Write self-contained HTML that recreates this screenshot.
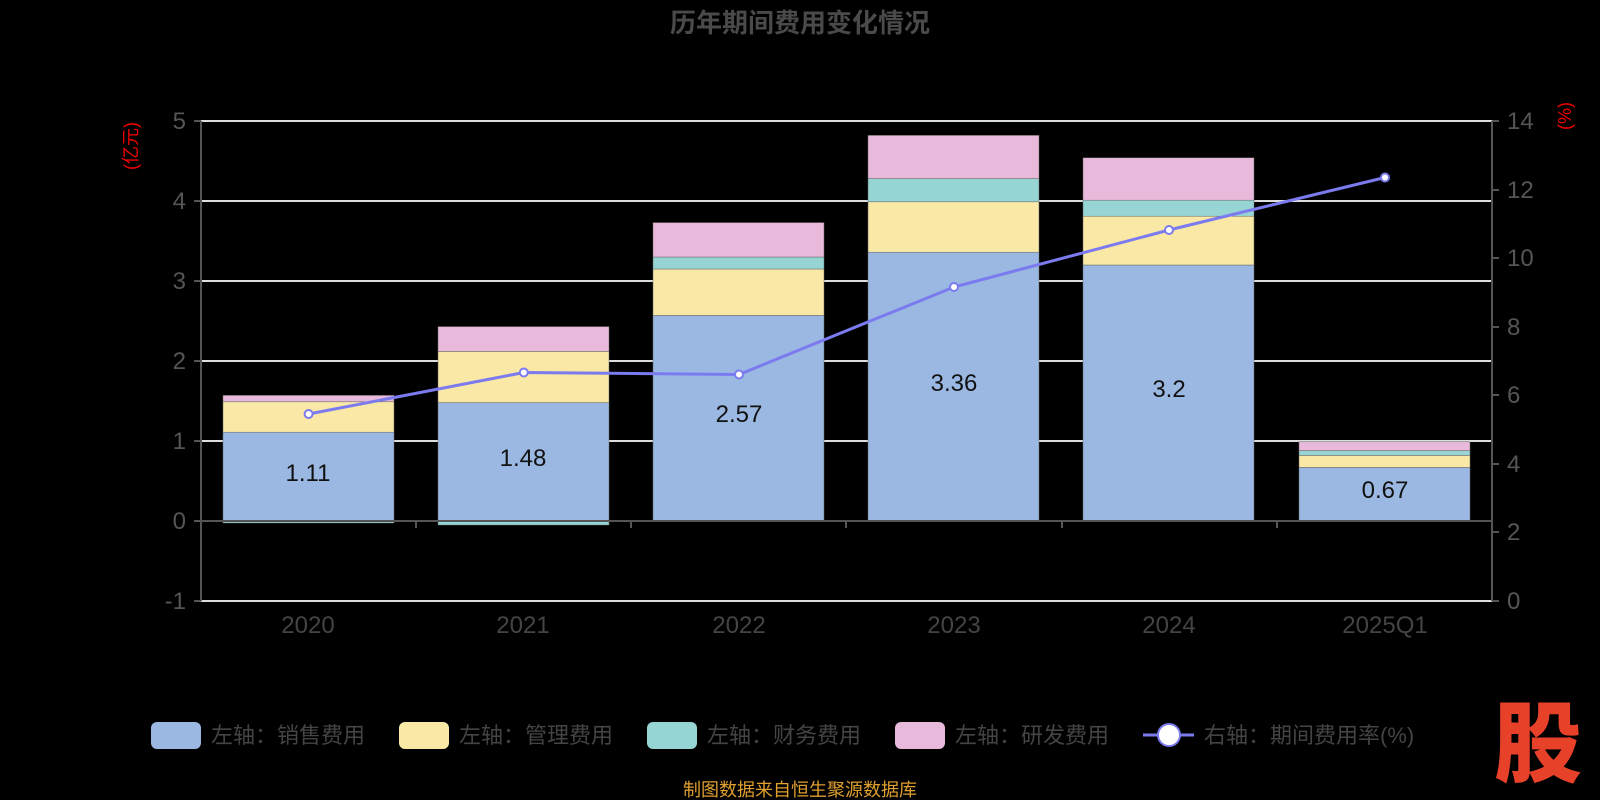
<!DOCTYPE html>
<html><head><meta charset="utf-8"><style>
html,body{margin:0;padding:0;background:#000;}
svg{display:block;font-family:"Liberation Sans","Noto Sans CJK SC",sans-serif;}
</style></head><body>
<svg width="1600" height="800" viewBox="0 0 1600 800">
<rect width="1600" height="800" fill="#000"/>
<text x="800" y="32" text-anchor="middle" font-size="26" font-weight="bold" fill="#4a4a4a">历年期间费用变化情况</text>
<g stroke="#ddd" stroke-width="2">
<line x1="201" x2="1492" y1="121" y2="121"/>
<line x1="201" x2="1492" y1="201" y2="201"/>
<line x1="201" x2="1492" y1="281" y2="281"/>
<line x1="201" x2="1492" y1="361" y2="361"/>
<line x1="201" x2="1492" y1="441" y2="441"/>
<line x1="201" x2="1492" y1="601" y2="601"/>
</g>
<g font-size="24" fill="#555" text-anchor="end">
<text x="186" y="129">5</text><text x="186" y="209">4</text><text x="186" y="289">3</text>
<text x="186" y="369">2</text><text x="186" y="449">1</text><text x="186" y="529">0</text><text x="186" y="609">-1</text>
</g>
<g font-size="24" fill="#555">
<text x="1507" y="129">14</text><text x="1507" y="198">12</text><text x="1507" y="266">10</text>
<text x="1507" y="335">8</text><text x="1507" y="403">6</text><text x="1507" y="472">4</text>
<text x="1507" y="540">2</text><text x="1507" y="609">0</text>
</g>
<text transform="translate(132,146) rotate(-90)" text-anchor="middle" dominant-baseline="middle" font-size="18" fill="#e00">(亿元)</text>
<text transform="translate(1566,116) rotate(-90)" text-anchor="middle" dominant-baseline="middle" font-size="18" fill="#e00">(%)</text>
<g stroke="#666" stroke-width="0.5">
<rect x="223" y="432.2" width="171" height="88.8" fill="#9ab8e2"/>
<rect x="223" y="401.8" width="171" height="30.4" fill="#f9e8a6"/>
<rect x="223" y="521" width="171" height="2" fill="#97d5d5"/>
<rect x="223" y="395.4" width="171" height="6.4" fill="#e8b9da"/>
<rect x="438" y="402.6" width="171" height="118.4" fill="#9ab8e2"/>
<rect x="438" y="351.4" width="171" height="51.2" fill="#f9e8a6"/>
<rect x="438" y="521" width="171" height="4" fill="#97d5d5"/>
<rect x="438" y="326.6" width="171" height="24.8" fill="#e8b9da"/>
<rect x="653" y="315.4" width="171" height="205.6" fill="#9ab8e2"/>
<rect x="653" y="269" width="171" height="46.4" fill="#f9e8a6"/>
<rect x="653" y="257" width="171" height="12" fill="#97d5d5"/>
<rect x="653" y="222.6" width="171" height="34.4" fill="#e8b9da"/>
<rect x="868" y="252.2" width="171" height="268.8" fill="#9ab8e2"/>
<rect x="868" y="201.8" width="171" height="50.4" fill="#f9e8a6"/>
<rect x="868" y="178.6" width="171" height="23.2" fill="#97d5d5"/>
<rect x="868" y="135.4" width="171" height="43.2" fill="#e8b9da"/>
<rect x="1083" y="265" width="171" height="256" fill="#9ab8e2"/>
<rect x="1083" y="216.2" width="171" height="48.8" fill="#f9e8a6"/>
<rect x="1083" y="200.2" width="171" height="16" fill="#97d5d5"/>
<rect x="1083" y="157.8" width="171" height="42.4" fill="#e8b9da"/>
<rect x="1299" y="467.4" width="171" height="53.6" fill="#9ab8e2"/>
<rect x="1299" y="455.4" width="171" height="12" fill="#f9e8a6"/>
<rect x="1299" y="450.6" width="171" height="4.8" fill="#97d5d5"/>
<rect x="1299" y="441.8" width="171" height="8.8" fill="#e8b9da"/>
</g>
<g stroke="#555" stroke-width="2">
<line x1="201" x2="201" y1="121" y2="601"/>
<line x1="1492" x2="1492" y1="121" y2="601"/>
<line x1="201" x2="1492" y1="521" y2="521"/>
</g>
<g stroke="#555" stroke-width="2">
<line x1="194" x2="201" y1="121" y2="121"/><line x1="194" x2="201" y1="201" y2="201"/><line x1="194" x2="201" y1="281" y2="281"/><line x1="194" x2="201" y1="361" y2="361"/><line x1="194" x2="201" y1="441" y2="441"/><line x1="194" x2="201" y1="521" y2="521"/><line x1="194" x2="201" y1="601" y2="601"/>
<line x1="1492" x2="1499" y1="121" y2="121"/><line x1="1492" x2="1499" y1="190" y2="190"/><line x1="1492" x2="1499" y1="258" y2="258"/><line x1="1492" x2="1499" y1="327" y2="327"/><line x1="1492" x2="1499" y1="395" y2="395"/><line x1="1492" x2="1499" y1="464" y2="464"/><line x1="1492" x2="1499" y1="532" y2="532"/><line x1="1492" x2="1499" y1="601" y2="601"/>
<line x1="416" x2="416" y1="521" y2="528"/><line x1="631" x2="631" y1="521" y2="528"/><line x1="846" x2="846" y1="521" y2="528"/><line x1="1062" x2="1062" y1="521" y2="528"/><line x1="1277" x2="1277" y1="521" y2="528"/>
</g>
<g font-size="24" fill="#111" text-anchor="middle">
<text x="308" y="481">1.11</text><text x="523" y="466">1.48</text><text x="739" y="422">2.57</text>
<text x="954" y="391">3.36</text><text x="1169" y="397">3.2</text><text x="1385" y="498">0.67</text>
</g>
<polyline points="308.6,414 523.8,372.5 739,374.5 954,287 1169,230 1385,177.5" fill="none" stroke="#7b7bef" stroke-width="3"/>
<g fill="#fff" stroke="#7b7bef" stroke-width="2">
<circle cx="308.6" cy="414" r="4"/><circle cx="523.8" cy="372.5" r="4"/><circle cx="739" cy="374.5" r="4"/>
<circle cx="954" cy="287" r="4"/><circle cx="1169" cy="230" r="4"/><circle cx="1385" cy="177.5" r="4"/>
</g>
<g font-size="24" fill="#444" text-anchor="middle">
<text x="308" y="633">2020</text><text x="523" y="633">2021</text><text x="739" y="633">2022</text>
<text x="954" y="633">2023</text><text x="1169" y="633">2024</text><text x="1385" y="633">2025Q1</text>
</g>
<g font-size="22" fill="#444">
<rect x="151" y="722" width="50" height="27" rx="6" fill="#9ab8e2"/><text x="211" y="743">左轴：销售费用</text>
<rect x="399" y="722" width="50" height="27" rx="6" fill="#f9e8a6"/><text x="459" y="743">左轴：管理费用</text>
<rect x="647" y="722" width="50" height="27" rx="6" fill="#97d5d5"/><text x="707" y="743">左轴：财务费用</text>
<rect x="895" y="722" width="50" height="27" rx="6" fill="#e8b9da"/><text x="955" y="743">左轴：研发费用</text>
<line x1="1143" x2="1194" y1="735" y2="735" stroke="#7b7bef" stroke-width="3"/>
<circle cx="1169" cy="735" r="11" fill="#fff" stroke="#7b7bef" stroke-width="2"/>
<text x="1204" y="743">右轴：期间费用率(%)</text>
</g>
<text x="800" y="796" text-anchor="middle" font-size="18" fill="#e0a030">制图数据来自恒生聚源数据库</text>
<text x="1538" y="775" text-anchor="middle" font-size="88" font-weight="900" fill="#e8412a" font-family="'Noto Sans CJK SC',sans-serif">股</text>
</svg>
</body></html>
